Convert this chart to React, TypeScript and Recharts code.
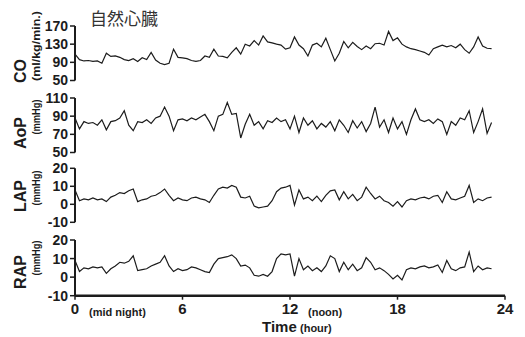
import { LineChart, Line, XAxis, YAxis } from "recharts";

// sampling grid in hours (one reading every 15 min)
const STEP = 0.25;

const coValues = [
  108, 96, 93, 94, 92, 93, 88, 110, 103, 104, 101, 96, 94, 98, 92, 100, 96, 112, 95, 88,
  85, 88, 119, 101, 100, 98, 94, 92, 94, 104, 101, 119, 104, 103, 100, 112, 122, 108, 130, 126,
  138, 128, 148, 135, 133, 130, 128, 119, 122, 146, 128, 120, 104, 128, 132, 124, 143, 118, 93, 110,
  136, 122, 134, 125, 118, 126, 120, 131, 132, 128, 158, 138, 144, 130, 124, 120, 118, 115, 112, 106,
  120, 124, 128, 124, 127, 122, 130, 118, 110, 124, 146, 126, 121, 120,
];

const aopValues = [
  88, 76, 84, 82, 83, 80, 86, 75, 84, 85, 88, 96, 80, 74, 84, 83, 86, 82, 88, 90,
  100, 90, 74, 86, 87, 85, 88, 86, 89, 92, 84, 74, 90, 92, 105, 92, 93, 66, 81, 92,
  80, 84, 76, 85, 83, 88, 84, 86, 76, 90, 72, 88, 80, 85, 76, 82, 78, 84, 74, 86,
  80, 72, 85, 77, 84, 73, 82, 100, 78, 86, 72, 88, 76, 84, 70, 86, 98, 86, 84, 86,
  82, 87, 84, 70, 84, 80, 88, 86, 96, 72, 84, 98, 71, 83,
];

const lapValues = [
  8, 2, 3, 2.5, 3.5, 2.5, 3, 1.5, 4, 5, 6.5, 6, 7.5, 8.5, 1.5, 2.5, 3, 4.5, 5, 6.5,
  8.5, 5, 2, 3.5, 2.5, 2, 3.5, 4, 3, 2.5, 1, 5, 8.5, 9.5, 9, 10.5, 9.5, 4, 3.5, 4.5,
  -1, -2, -1.5, -1, 2, 7, 9, 9.5, 10.5, -0.5, 8, 3, 4, 2, 4.5, 1.5, 5, 7.5, 8, 2.5,
  7, 3, 5.5, 2, 4, 9.5, 6, 3, 4.5, 2, 1, -1, 1.5, -1.5, 2, 3, 2.5, 3.5, 4, 3,
  4.5, 5, 1, 7, 3, 2.5, 3.5, 4.5, 10.5, 1, 3, 2, 3.5, 4,
];

const rapValues = [
  9, 3, 5, 4.5, 5.5, 5, 5.5, 2, 4.5, 6, 8, 7.5, 8.5, 11.5, 3.5, 4, 4.5, 6, 7, 8,
  11.5, 6, 3, 4.5, 3.5, 4, 5.5, 5, 4, 3, 2.5, 7, 10, 10.5, 11, 12, 10, 6, 6.5, 5,
  1, 0.5, 1.5, 0.5, 3, 10, 12.5, 12, 12.5, 0.5, 10, 4, 6, 3.5, 5, 3, 6, 11.5, 10, 3,
  8, 4, 7, 3.5, 5, 10.5, 8, 4, 5, 3.5, 1.5, -1, 1, -1.5, 4, 5, 4.5, 5.5, 6, 5,
  5.5, 6.5, 2.5, 9, 4.5, 3.5, 5, 5.5, 13.5, 3, 6, 4, 5, 4.5,
];

const hourTicks = [0, 6, 12, 18, 24];
const coTicks = [50, 90, 130, 170];
const aopTicks = [50, 70, 90, 110];
const pressureTicks = [-10, 0, 10, 20];

const data = coValues.map((co, i) => ({
  hour: i * STEP,
  co,
  aop: aopValues[i],
  lap: lapValues[i],
  rap: rapValues[i],
}));

const INK = "#1c1c1c";
const FONT = "'Liberation Sans', Arial, sans-serif";
const tickStyle = { fill: INK, fontSize: 14, fontWeight: 700, fontFamily: FONT };

type PanelProps = {
  dataKey: string;
  domain: [number, number];
  ticks: number[];
  top: number;
  height: number;
  margin: { top: number; bottom: number };
  showX?: boolean;
};

const Panel = ({ dataKey, domain, ticks, top, height, margin, showX }: PanelProps) => (
  <div style={{ position: "absolute", left: 0, top }}>
    <LineChart
      width={525}
      height={height}
      data={data}
      margin={{ top: margin.top, bottom: margin.bottom, left: 35, right: 20 }}>
      <XAxis
        dataKey="hour"
        type="number"
        domain={[0, 24]}
        ticks={hourTicks}
        hide={!showX}
        height={30}
        tickSize={4}
        tickMargin={4}
        axisLine={{ stroke: INK, strokeWidth: 2.5 }}
        tickLine={{ stroke: INK, strokeWidth: 1.5 }}
        tick={{ ...tickStyle, fontSize: 15 }}
      />
      <YAxis
        width={40}
        domain={domain}
        ticks={ticks}
        interval={0}
        allowDataOverflow
        tickSize={5}
        tickMargin={2}
        axisLine={{ stroke: INK, strokeWidth: 2 }}
        tickLine={{ stroke: INK, strokeWidth: 1.5 }}
        tick={tickStyle}
      />
      <Line
        type="linear"
        dataKey={dataKey}
        stroke={INK}
        strokeWidth={1.2}
        dot={false}
        isAnimationActive={false}
      />
    </LineChart>
  </div>
);

const labels = [
  { name: "CO", unit: "(ml/kg/min.)", cy: 71, ucy: 46, ulen: 70 },
  { name: "AoP", unit: "(mmHg)", cy: 133, ucy: 117, ulen: 35 },
  { name: "LAP", unit: "(mmHg)", cy: 196, ucy: 188, ulen: 35 },
  { name: "RAP", unit: "(mmHg)", cy: 272, ucy: 258, ulen: 35 },
];

const App = () => (
  <div style={{ position: "absolute", left: 0, top: 0, width: 525, height: 337, background: "#fff" }}>
    <Panel dataKey="co" domain={[50, 170]} ticks={coTicks} top={0} height={90} margin={{ top: 26, bottom: 9.5 }} />
    <Panel dataKey="aop" domain={[50, 110]} ticks={aopTicks} top={90} height={70} margin={{ top: 8, bottom: 7.5 }} />
    <Panel dataKey="lap" domain={[-10, 20]} ticks={pressureTicks} top={160} height={70} margin={{ top: 8.3, bottom: 7.7 }} />
    <Panel dataKey="rap" domain={[-10, 20]} ticks={pressureTicks} top={230} height={107} margin={{ top: 10, bottom: 11.3 }} showX />
    <svg width={525} height={337} style={{ position: "absolute", left: 0, top: 0, pointerEvents: "none" }}>
      <text x={90} y={25} fontSize={17} fill="#333" fontFamily="'Noto Sans CJK JP', sans-serif">
        自然心臓
      </text>
      {labels.map((l) => (
        <g key={l.name} fontFamily={FONT} fontWeight={700} fill={INK}>
          <text x={26} y={l.cy} fontSize={16} textAnchor="middle" transform={`rotate(-90 26 ${l.cy})`}>
            {l.name}
          </text>
          <text
            x={40}
            y={l.ucy}
            fontSize={11}
            textAnchor="middle"
            textLength={l.ulen}
            lengthAdjust="spacingAndGlyphs"
            transform={`rotate(-90 40 ${l.ucy})`}>
            {l.unit}
          </text>
        </g>
      ))}
      <g fontFamily={FONT} fontWeight={700} fill={INK}>
        <text x={89} y={316} fontSize={11}>(mid night)</text>
        <text x={308} y={316} fontSize={11}>(noon)</text>
        <text x={262} y={332} fontSize={15}>Time</text>
        <text x={300} y={332} fontSize={11}>(hour)</text>
      </g>
    </svg>
  </div>
);

export default App;
